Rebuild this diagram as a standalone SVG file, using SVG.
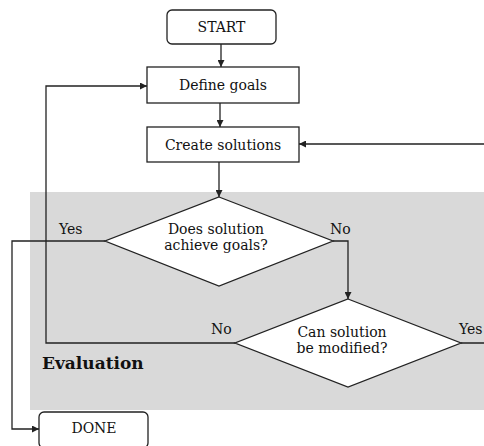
<svg xmlns="http://www.w3.org/2000/svg" width="484" height="446" viewBox="0 0 484 446">
<style>
.box{fill:#fff;stroke:#222;stroke-width:1.3}
.t{font-family:"DejaVu Serif","Liberation Serif",serif;font-size:14px;fill:#111;text-anchor:middle}
.l{font-family:"DejaVu Serif","Liberation Serif",serif;font-size:14px;fill:#111}
.c{fill:none;stroke:#222;stroke-width:1.3}
</style>
<defs>
<marker id="ah" viewBox="0 0 10 10" refX="10" refY="5" markerWidth="7" markerHeight="7" markerUnits="userSpaceOnUse" orient="auto">
<path d="M0,0 L10,5 L0,10 z" fill="#222"/>
</marker>
</defs>
<rect x="0" y="0" width="484" height="446" fill="#fff"/>
<g id="evaluation">
<rect x="30" y="192" width="460" height="218" fill="#d9d9d9"/>
<text x="42" y="369" style="font-family:'DejaVu Serif','Liberation Serif',serif;font-size:17px;font-weight:bold;fill:#111">Evaluation</text>
</g>
<g id="connectors">
<path class="c" d="M221,44 V67" marker-end="url(#ah)"/>
<path class="c" d="M220,103 V127" marker-end="url(#ah)"/>
<path class="c" d="M219,162 V197" marker-end="url(#ah)"/>
<path class="c" d="M105,241 H12 V429 H39" marker-end="url(#ah)"/>
<path class="c" d="M333,241 H348 V299" marker-end="url(#ah)"/>
<path class="c" d="M235,343 H46 V86 H147" marker-end="url(#ah)"/>
<path class="c" d="M461,343 H492 V144 H299" marker-end="url(#ah)"/>
</g>
<g id="start">
<rect class="box" x="167" y="10" width="109" height="34" rx="5"/>
<text class="t" x="221.5" y="32">START</text>
</g>
<g id="define">
<rect class="box" x="147" y="67" width="152" height="36"/>
<text class="t" x="223" y="90">Define goals</text>
</g>
<g id="create">
<rect class="box" x="147" y="127" width="152" height="35"/>
<text class="t" x="223" y="149.5">Create solutions</text>
</g>
<g id="achieve">
<polygon class="box" points="219,197 333,241 219,286 105,241"/>
<text class="t" x="216" y="234">Does solution</text>
<text class="t" x="216" y="250">achieve goals?</text>
</g>
<g id="modify">
<polygon class="box" points="348,299 461,343 348,387 235,343"/>
<text class="t" x="342" y="337">Can solution</text>
<text class="t" x="342" y="353">be modified?</text>
</g>
<g id="done">
<rect class="box" x="39" y="412" width="109" height="36" rx="5"/>
<text class="t" x="94" y="433">DONE</text>
</g>
<g id="labels">
<text class="l" x="59" y="234">Yes</text>
<text class="l" x="330" y="234">No</text>
<text class="l" x="211" y="334">No</text>
<text class="l" x="459" y="334">Yes</text>
</g>
</svg>
